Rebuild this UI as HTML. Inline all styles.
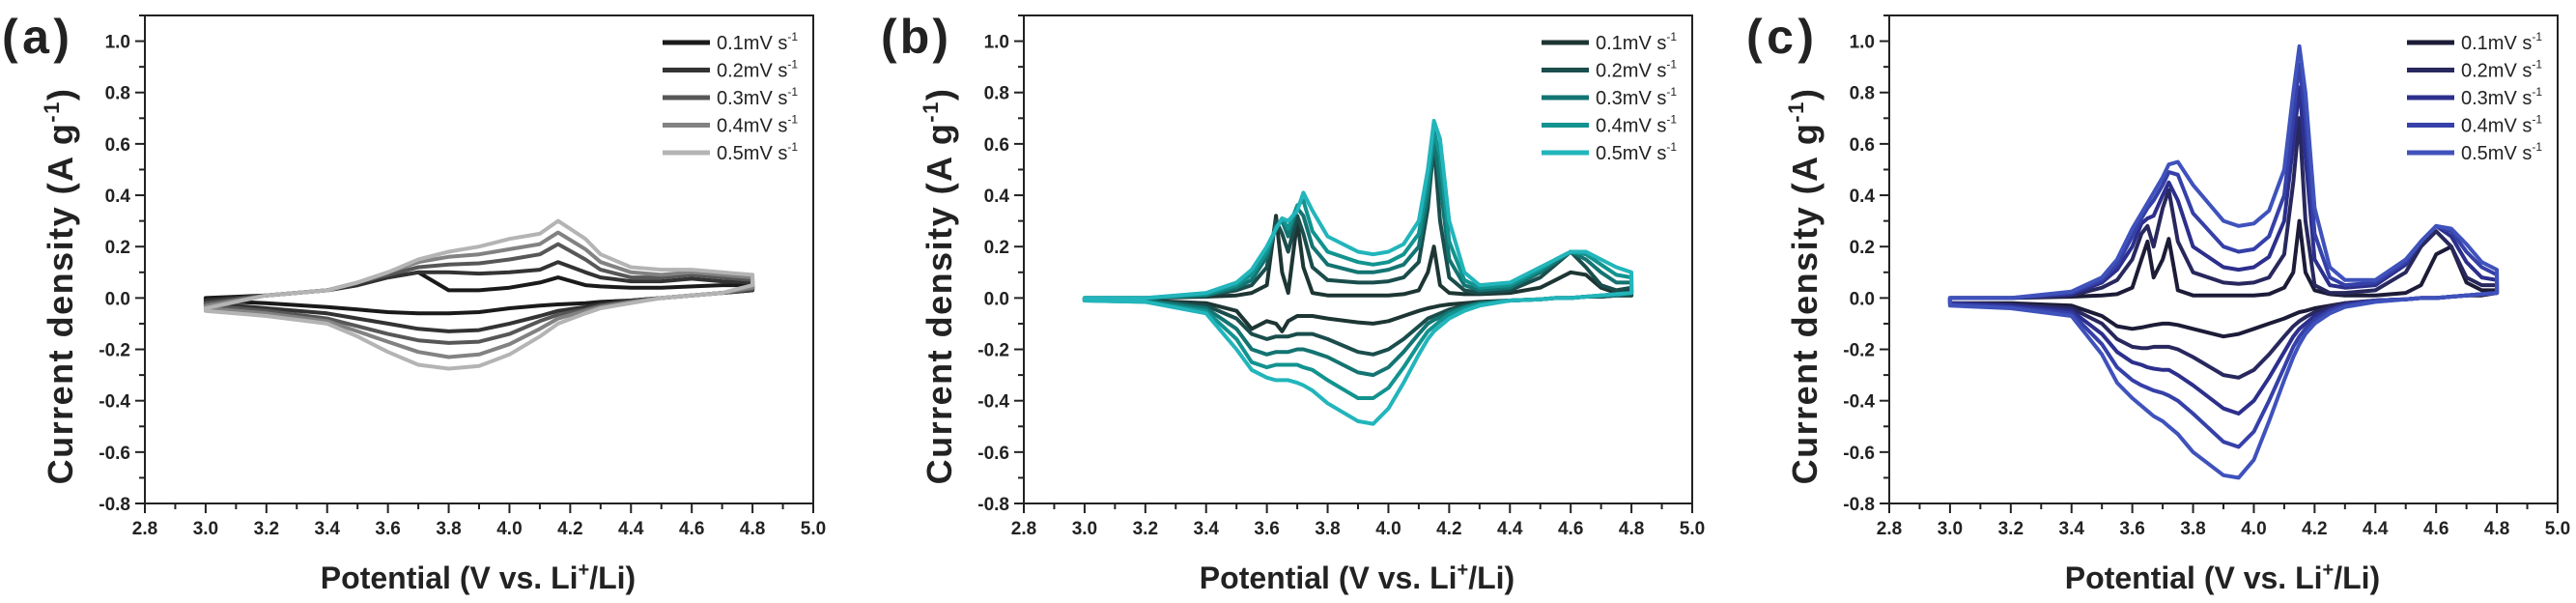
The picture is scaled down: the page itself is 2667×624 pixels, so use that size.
<!DOCTYPE html>
<html><head><meta charset="utf-8"><style>
html,body{margin:0;padding:0;background:#fff;}
svg{display:block;}
text{font-family:"Liberation Sans",sans-serif;}
</style></head><body>
<svg id="fig" width="2667" height="624" viewBox="0 0 2667 624" xmlns="http://www.w3.org/2000/svg"></svg>
<script>
// ---- data ----
const gridA = [3.0,3.2,3.4,3.5,3.6,3.7,3.8,3.9,4.0,4.1,4.16,4.25,4.3,4.4,4.5,4.6,4.7,4.8];
const gridBC = [3.0,3.2,3.4,3.5,3.55,3.6,3.63,3.65,3.67,3.7,3.72,3.75,3.8,3.9,3.95,4.0,4.05,4.1,4.13,4.15,4.17,4.2,4.25,4.3,4.4,4.5,4.55,4.6,4.65,4.7,4.75,4.8];
const seriesNames = ["0.1mV s","0.2mV s","0.3mV s","0.4mV s","0.5mV s"];
const xTicks = [2.8,3.0,3.2,3.4,3.6,3.8,4.0,4.2,4.4,4.6,4.8,5.0];
const yTicks = [-0.8,-0.6,-0.4,-0.2,0.0,0.2,0.4,0.6,0.8,1.0];

const aUp = [
[0,0.01,0.03,0.05,0.08,0.1,0.03,0.03,0.04,0.06,0.08,0.05,0.045,0.04,0.04,0.045,0.05,0.05],
[-0.01,0.01,0.03,0.05,0.08,0.1,0.1,0.095,0.1,0.11,0.14,0.1,0.08,0.065,0.065,0.075,0.065,0.06],
[-0.02,0.01,0.03,0.06,0.09,0.12,0.13,0.135,0.15,0.17,0.21,0.15,0.11,0.08,0.08,0.09,0.08,0.07],
[-0.03,0.01,0.03,0.06,0.1,0.14,0.16,0.17,0.19,0.21,0.255,0.19,0.14,0.1,0.09,0.1,0.09,0.08],
[-0.04,0.01,0.03,0.06,0.1,0.15,0.18,0.2,0.23,0.25,0.3,0.23,0.17,0.12,0.11,0.11,0.1,0.09]];
const aDown = [
[-0.01,-0.02,-0.035,-0.045,-0.055,-0.06,-0.06,-0.055,-0.04,-0.03,-0.025,-0.02,-0.015,-0.01,0,0.01,0.02,0.03],
[-0.02,-0.04,-0.06,-0.08,-0.1,-0.12,-0.13,-0.125,-0.1,-0.07,-0.05,-0.035,-0.025,-0.01,0,0.01,0.02,0.03],
[-0.03,-0.05,-0.08,-0.11,-0.14,-0.165,-0.175,-0.17,-0.14,-0.09,-0.065,-0.045,-0.03,-0.015,0,0.01,0.02,0.035],
[-0.04,-0.06,-0.09,-0.13,-0.17,-0.21,-0.23,-0.22,-0.18,-0.12,-0.08,-0.05,-0.035,-0.015,0,0.01,0.02,0.04],
[-0.05,-0.07,-0.1,-0.15,-0.21,-0.26,-0.275,-0.265,-0.22,-0.15,-0.1,-0.06,-0.04,-0.02,0,0.01,0.02,0.05]];

const bUp = [
[0,0,0.005,0.01,0.02,0.05,0.32,0.1,0.02,0.3,0.12,0.02,0.01,0.01,0.01,0.01,0.015,0.03,0.1,0.2,0.05,0.02,0.015,0.015,0.02,0.04,0.07,0.1,0.09,0.04,0.02,0.03],
[0,0,0.01,0.03,0.05,0.12,0.3,0.25,0.18,0.32,0.25,0.12,0.07,0.06,0.06,0.065,0.08,0.14,0.35,0.6,0.3,0.08,0.03,0.02,0.03,0.08,0.13,0.18,0.12,0.05,0.03,0.04],
[0,0,0.01,0.04,0.07,0.16,0.28,0.3,0.24,0.35,0.32,0.2,0.13,0.1,0.1,0.11,0.13,0.2,0.4,0.62,0.45,0.15,0.05,0.03,0.04,0.1,0.14,0.18,0.15,0.1,0.06,0.06],
[0,0,0.015,0.05,0.09,0.18,0.27,0.31,0.27,0.36,0.38,0.26,0.18,0.14,0.13,0.14,0.17,0.25,0.45,0.65,0.55,0.22,0.07,0.04,0.05,0.11,0.15,0.18,0.17,0.13,0.09,0.08],
[0,0,0.02,0.06,0.11,0.2,0.27,0.31,0.3,0.34,0.41,0.34,0.24,0.18,0.17,0.18,0.21,0.3,0.5,0.69,0.62,0.3,0.1,0.05,0.06,0.12,0.15,0.18,0.18,0.15,0.12,0.1]];
const bDown = [
[-0.01,-0.01,-0.02,-0.05,-0.12,-0.09,-0.1,-0.13,-0.09,-0.07,-0.07,-0.07,-0.08,-0.095,-0.1,-0.09,-0.07,-0.05,-0.04,-0.035,-0.03,-0.025,-0.02,-0.015,-0.01,-0.005,0,0,0.005,0.005,0.01,0.01],
[-0.01,-0.01,-0.03,-0.08,-0.14,-0.16,-0.15,-0.15,-0.15,-0.14,-0.14,-0.14,-0.16,-0.21,-0.22,-0.2,-0.16,-0.11,-0.08,-0.07,-0.06,-0.045,-0.03,-0.02,-0.01,-0.005,0,0,0.005,0.005,0.01,0.01],
[-0.01,-0.01,-0.04,-0.12,-0.2,-0.22,-0.21,-0.21,-0.21,-0.2,-0.2,-0.21,-0.23,-0.29,-0.3,-0.27,-0.21,-0.14,-0.1,-0.085,-0.075,-0.055,-0.035,-0.02,-0.01,-0.005,0,0,0.005,0.01,0.01,0.02],
[-0.01,-0.015,-0.05,-0.16,-0.25,-0.27,-0.26,-0.26,-0.26,-0.26,-0.27,-0.28,-0.32,-0.39,-0.39,-0.35,-0.27,-0.18,-0.13,-0.11,-0.09,-0.065,-0.04,-0.025,-0.01,-0.005,0,0,0.005,0.01,0.015,0.02],
[-0.01,-0.015,-0.06,-0.2,-0.28,-0.31,-0.32,-0.32,-0.32,-0.33,-0.34,-0.36,-0.41,-0.48,-0.49,-0.43,-0.33,-0.22,-0.16,-0.13,-0.11,-0.08,-0.05,-0.03,-0.01,-0.005,0,0,0.005,0.01,0.015,0.02]];

const cUp = [
[0,0,0.005,0.01,0.015,0.04,0.15,0.22,0.08,0.15,0.23,0.03,0.01,0.01,0.01,0.01,0.015,0.04,0.1,0.3,0.1,0.03,0.015,0.01,0.01,0.02,0.05,0.17,0.2,0.06,0.03,0.03],
[0,0,0.01,0.04,0.07,0.15,0.25,0.28,0.2,0.35,0.42,0.22,0.1,0.06,0.055,0.06,0.08,0.17,0.45,0.7,0.3,0.05,0.02,0.02,0.03,0.1,0.2,0.26,0.2,0.08,0.05,0.05],
[0,0,0.015,0.06,0.11,0.2,0.29,0.31,0.32,0.4,0.45,0.38,0.2,0.12,0.11,0.12,0.16,0.3,0.6,0.82,0.55,0.15,0.05,0.04,0.05,0.13,0.22,0.28,0.24,0.14,0.08,0.07],
[0,0,0.02,0.07,0.13,0.24,0.31,0.35,0.38,0.44,0.49,0.48,0.33,0.2,0.18,0.19,0.24,0.4,0.7,0.91,0.7,0.25,0.08,0.05,0.06,0.14,0.22,0.28,0.26,0.18,0.12,0.09],
[0,0,0.025,0.08,0.15,0.27,0.33,0.37,0.41,0.47,0.52,0.53,0.44,0.3,0.28,0.29,0.34,0.5,0.8,0.98,0.8,0.35,0.12,0.07,0.07,0.15,0.22,0.28,0.27,0.21,0.14,0.11]];
const cDown = [
[-0.02,-0.02,-0.03,-0.07,-0.11,-0.12,-0.115,-0.11,-0.105,-0.1,-0.1,-0.105,-0.12,-0.15,-0.14,-0.12,-0.1,-0.08,-0.065,-0.055,-0.05,-0.04,-0.03,-0.02,-0.01,-0.005,0,0,0.005,0.01,0.01,0.02],
[-0.02,-0.025,-0.04,-0.1,-0.16,-0.19,-0.195,-0.195,-0.19,-0.19,-0.19,-0.2,-0.23,-0.3,-0.31,-0.28,-0.22,-0.15,-0.11,-0.09,-0.075,-0.055,-0.035,-0.02,-0.01,-0.005,0,0,0.005,0.01,0.015,0.02],
[-0.02,-0.03,-0.05,-0.14,-0.21,-0.25,-0.26,-0.27,-0.275,-0.28,-0.28,-0.3,-0.34,-0.43,-0.45,-0.4,-0.31,-0.21,-0.15,-0.12,-0.1,-0.07,-0.045,-0.025,-0.01,-0.005,0,0,0.005,0.01,0.015,0.02],
[-0.025,-0.035,-0.06,-0.18,-0.27,-0.32,-0.34,-0.35,-0.36,-0.37,-0.38,-0.4,-0.45,-0.56,-0.58,-0.52,-0.4,-0.27,-0.19,-0.15,-0.12,-0.085,-0.05,-0.03,-0.01,-0.005,0,0,0.005,0.01,0.015,0.02],
[-0.03,-0.04,-0.07,-0.22,-0.33,-0.39,-0.42,-0.44,-0.46,-0.48,-0.5,-0.53,-0.6,-0.69,-0.7,-0.63,-0.48,-0.32,-0.23,-0.18,-0.14,-0.1,-0.06,-0.035,-0.015,-0.005,0,0,0.005,0.01,0.015,0.02]];

const colorsA = ["#1a1a1a","#333333","#575757","#828282","#b4b4b4"];
const colorsB = ["#1d3634","#1a4d4c","#137472","#12938f","#22b5bb"];
const colorsC = ["#1c1c38","#28285e","#2c2f8c","#3540a8","#3f52bc"];

// ---- drawing ----
const NS = "http://www.w3.org/2000/svg";
const svg = document.getElementById('fig');
function mk(tag, attrs, parent){
  const e = document.createElementNS(NS, tag);
  for (const k in attrs) e.setAttribute(k, attrs[k]);
  (parent||svg).appendChild(e);
  return e;
}
const TOP = 16, BOT = 521, W = 692, XMIN = 2.8, XMAX = 5.0, YMIN = -0.8, YMAX = 1.1;

function drawPanel(left, letter, grid, up, down, colors, key){
  const g = mk('g', {});
  
  
  const xs = v => left + (v - XMIN) / (XMAX - XMIN) * W;
  const ys = v => BOT - (v - YMIN) / (YMAX - YMIN) * (BOT - TOP);

  const frame = mk('rect', {x:left, y:TOP, width:W, height:BOT-TOP, fill:'none', stroke:'#222', 'stroke-width':2}, g);
  
  

  xTicks.forEach((t, i) => {
    const x = xs(t);
    mk('line', {x1:x, y1:BOT, x2:x, y2:BOT+10, stroke:'#222', 'stroke-width':2}, g);
    if (i < xTicks.length - 1) { const xm = xs(t + 0.1); mk('line', {x1:xm, y1:BOT, x2:xm, y2:BOT+6, stroke:'#222', 'stroke-width':2}, g); }
    const tx = mk('text', {x:x, y:BOT+32, 'text-anchor':'middle', 'font-size':19, 'font-weight':'bold', fill:'#222'}, g);
    tx.textContent = t.toFixed(1);
    
    
  });
  yTicks.forEach((t, i) => {
    const y = ys(t);
    mk('line', {x1:left-10, y1:y, x2:left, y2:y, stroke:'#222', 'stroke-width':2}, g);
    const ym = ys(t + 0.1); mk('line', {x1:left-6, y1:ym, x2:left, y2:ym, stroke:'#222', 'stroke-width':2}, g);
    const ty = mk('text', {x:left-15, y:y+7, 'text-anchor':'end', 'font-size':19, 'font-weight':'bold', fill:'#222'}, g);
    ty.textContent = t.toFixed(1);
    
    
  });

  up.forEach((ser, s) => {
    let pts = grid.map((v, i) => xs(v).toFixed(1) + ',' + ys(ser[i]).toFixed(1));
    const dn = down[s];
    for (let i = grid.length - 1; i >= 0; i--) pts.push(xs(grid[i]).toFixed(1) + ',' + ys(dn[i]).toFixed(1));
    const pl = mk('polygon', {points:pts.join(' '), fill:'none', stroke:colors[s], 'stroke-width':4, 'stroke-linejoin':'round'}, g);
    
    
  });

  seriesNames.forEach((nm, s) => {
    const y = 44 + s * 28.5;
    const ln = mk('line', {x1:left+536, y1:y, x2:left+585, y2:y, stroke:colors[s], 'stroke-width':5}, g);
    
    
    const t = mk('text', {x:left+592, y:y+7, 'font-size':20, fill:'#222'}, g);
    
    
    t.appendChild(document.createTextNode(nm));
    const sp = mk('tspan', {dy:-9, 'font-size':12}, t);
    sp.textContent = '-1';
  });

  const lt = mk('text', {x:left-148, y:55, 'font-size':50, 'font-weight':'bold', fill:'#222', textLength:70}, g);
  lt.textContent = '(' + letter + ')';
  
  

  const yt = mk('text', {x:0, y:0, 'font-size':36, 'font-weight':'bold', fill:'#222', 'text-anchor':'middle', transform:'translate(' + (left-75) + ',296) rotate(-90)', 'letter-spacing':1.5}, g);
  
  
  yt.appendChild(document.createTextNode('Current density (A g'));
  const ys1 = mk('tspan', {dy:-14, 'font-size':22}, yt); ys1.textContent = '-1';
  const ys2 = mk('tspan', {dy:14}, yt); ys2.textContent = ')';

  const xt = mk('text', {x:left+345, y:609, 'font-size':32, 'font-weight':'bold', fill:'#222', 'text-anchor':'middle'}, g);
  
  
  xt.appendChild(document.createTextNode('Potential (V vs. Li'));
  const xs1 = mk('tspan', {dy:-13, 'font-size':20}, xt); xs1.textContent = '+';
  const xs2 = mk('tspan', {dy:13}, xt); xs2.textContent = '/Li)';
}

drawPanel(150, 'a', gridA, aUp, aDown, colorsA, 'a');
drawPanel(1060, 'b', gridBC, bUp, bDown, colorsB, 'b');
drawPanel(1956, 'c', gridBC, cUp, cDown, colorsC, 'c');
</script>
</body></html>
